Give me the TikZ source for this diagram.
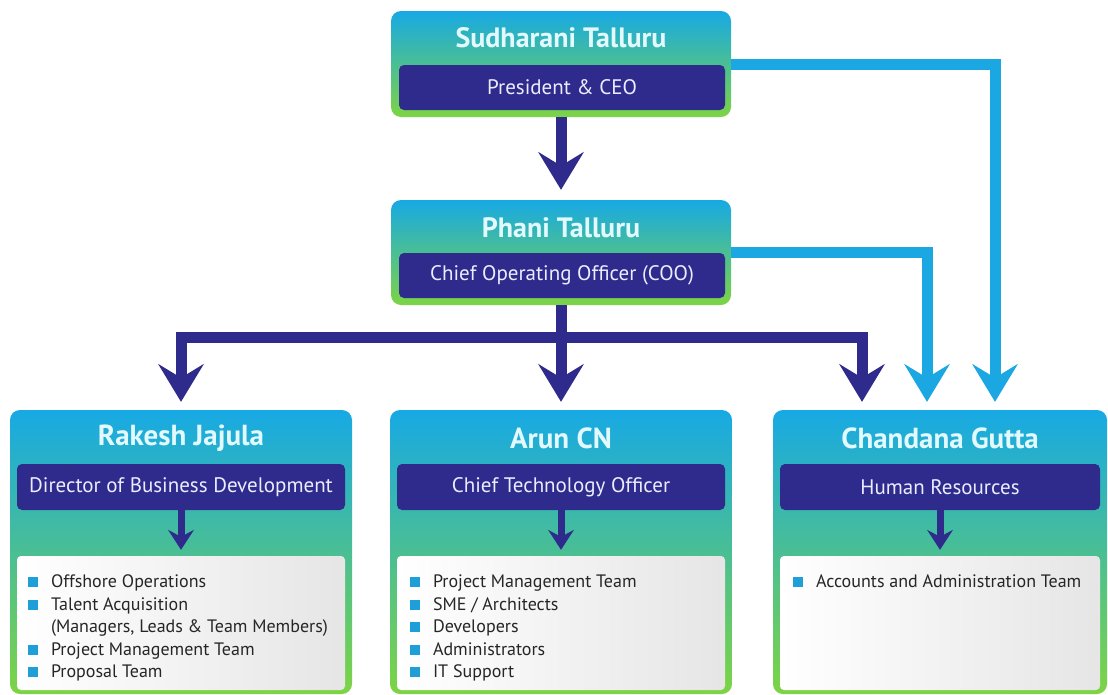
\documentclass[tikz,border=0pt]{standalone}
\usepackage{fontspec}
\setmainfont{PT Sans}
\usetikzlibrary{arrows.meta,positioning}
\definecolor{navy}{HTML}{2E2B8C}
\definecolor{sky}{HTML}{1AA7E2}
\definecolor{boxTop}{HTML}{17A9E4}
\definecolor{boxMid}{HTML}{36C586}
\definecolor{boxBot}{HTML}{7DD444}
\definecolor{nameText}{HTML}{E2FAFF}
\definecolor{jobText}{HTML}{ECECFF}
\definecolor{bulletBlue}{HTML}{1E9FD8}
\newcommand{\bul}{\makebox[23pt][l]{\textcolor{bulletBlue}{\rule[0.5pt]{10pt}{10pt}}}}
\newcommand{\cont}{\makebox[23pt]{}}

\begin{document}
\begin{tikzpicture}
[x=1pt,y=-1pt,
  boxOuter/.style={shape=rectangle,rounded corners=10pt,inner sep=0pt,
    top color=boxTop,middle color=boxMid,bottom color=boxBot},%
  boxTitle/.style={shape=rectangle,rounded corners=5pt,fill=navy,inner sep=0pt,
    text=jobText,font=\fontsize{21}{25}\selectfont},%
  boxList/.style={shape=rectangle,rounded corners=4pt,inner sep=0pt,
    left color=white,right color=black!10},%
  topName/.style={text=nameText,font=\bfseries\fontsize{28}{32}\selectfont},%
  bigName/.style={text=nameText,font=\bfseries\fontsize{29}{34}\selectfont},%
  itemText/.style={anchor=north west,inner sep=0pt,align=left,text=black!85,
    font=\fontsize{18}{22.5}\selectfont},%
  arrowBoss/.style={draw=navy,line width=11pt,shorten >=8pt,
    -{Stealth[length=38pt,width=46pt,inset=14pt,line width=0pt]}},%
  arrowHr/.style={arrowBoss,draw=sky},%
  arrowSmall/.style={draw=navy,line width=7pt,shorten >=6pt,
    -{Stealth[length=20pt,width=26pt,inset=7pt,line width=0pt]}}]
\useasboundingbox (0,0) rectangle (1108,694);
%% top boxes
\node[boxOuter,minimum width=340pt,minimum height=106pt] (ceo) at (561,64) {};
\node[boxTitle,minimum width=326pt,minimum height=45pt] (ceoTitle) at (562,87.5) {President \& CEO};
\node[topName] (ceoName) at (561,38) {Sudharani Talluru};
\node[boxOuter,minimum width=340pt,minimum height=105pt] (coo) at (561,252.5) {};
\node[boxTitle,minimum width=326pt,minimum height=45pt] (cooTitle) at (562,275.5) {Chief Operating Officer (COO)};
\node[topName] (cooName) at (561,228) {Phani Talluru};
%% bottom boxes
\foreach \id/\x/\w/\who/\job in {rakesh/181/342/Rakesh Jajula/Director of Business Development,
    arun/561/342/Arun CN/Chief Technology Officer,
    chandana/940/334/Chandana Gutta/Human Resources} {
  \node[boxOuter,minimum width=\w,minimum height=284pt] (\id) at (\x,552) {};
  \node[boxTitle,minimum width=\w-14,minimum height=46pt] (\id Title) at (\x,487) {\job};
  \node[bigName] (\id Name) at (\x,438) {\who};
  \node[boxList,minimum width=\w-14,minimum height=134pt] (\id List) at (\x,623) {};
  \draw[arrowSmall] (\id Title) -- (\id List);
}
%% lists
\node[itemText] (rakeshItems) at ([xshift=11pt,yshift=-19pt]rakeshList.north west)
  {\bul Offshore Operations\\ \bul Talent Acquisition\\ \cont(Managers, Leads \& Team Members)\\
   \bul Project Management Team\\ \bul Proposal Team};
\node[itemText] (arunItems) at ([xshift=13pt,yshift=-19pt]arunList.north west)
  {\bul Project Management Team\\ \bul SME / Architects\\ \bul Developers\\
   \bul Administrators\\ \bul IT Support};
\node[itemText] (chandanaItems) at ([xshift=13pt,yshift=-19pt]chandanaList.north west)
  {\bul Accounts and Administration Team};
%% reporting lines
\coordinate (split) at ([yshift=-32pt]coo.south);
\draw[arrowBoss,shorten >=10pt] (ceo) -- (coo);
\draw[arrowBoss] (coo) -- (arun);
\draw[arrowBoss] (split) -| (rakesh);
\draw[arrowBoss] (split) -| ([xshift=-78pt]chandana.north);
\draw[arrowHr] (ceo) -| ([xshift=55pt]chandana.north);
\draw[arrowHr] (coo) -| ([xshift=-13pt]chandana.north);
\end{tikzpicture}
\end{document}
